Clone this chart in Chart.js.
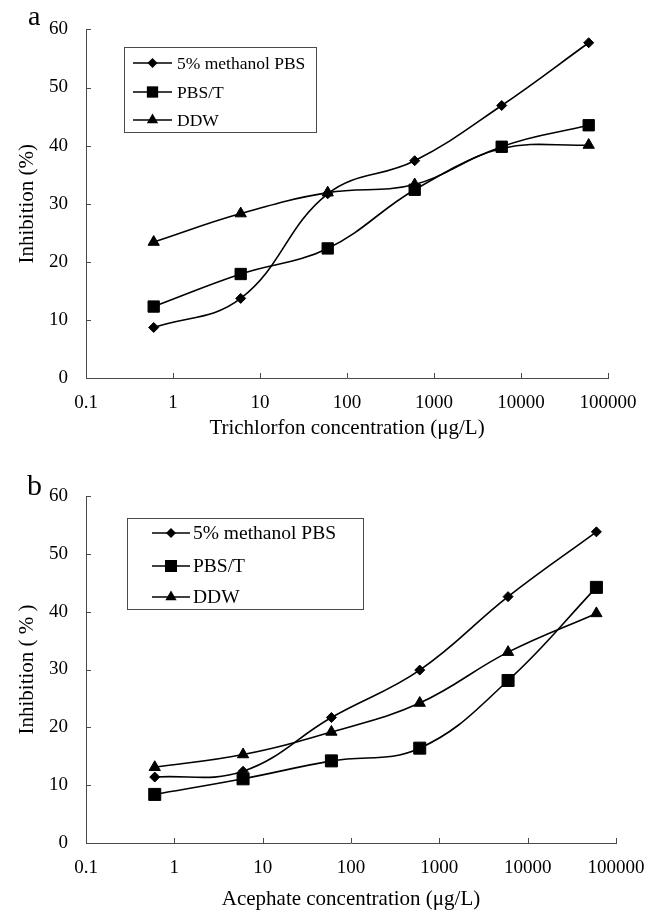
<!DOCTYPE html>
<html><head><meta charset="utf-8">
<script src="https://cdn.jsdelivr.net/npm/chart.js@4"></script>
<style>
html,body{margin:0;padding:0;background:#fff;}
canvas{display:block;}
</style></head><body>
<canvas id="ca" width="650" height="455"></canvas>
<canvas id="cb" width="650" height="455"></canvas>
<script>
// ---- data ----
const concentrations = [0.6, 6, 60, 600, 6000, 60000];
const xTickValues = [0.1, 1, 10, 100, 1000, 10000, 100000];
const yTickValues = [0, 10, 20, 30, 40, 50, 60];
const seriesNames = ['5% methanol PBS', 'PBS/T', 'DDW'];
const trichlorfonMethanol = [8.7, 13.7, 31.7, 37.4, 46.9, 57.7];
const trichlorfonPBST = [12.3, 17.9, 22.3, 32.4, 39.8, 43.5];
const trichlorfonDDW = [23.4, 28.3, 31.9, 33.3, 39.5, 40.1];
const acephateMethanol = [11.4, 12.4, 21.7, 29.9, 42.6, 53.8];
const acephatePBST = [8.4, 11.1, 14.2, 16.4, 28.1, 44.2];
const acephateDDW = [13.1, 15.3, 19.2, 24.2, 33.0, 39.7];
const xTitleA = 'Trichlorfon concentration (\u03bcg/L)';
const xTitleB = 'Acephate concentration (\u03bcg/L)';
const yTitleA = 'Inhibition (%)';
const yTitleB = 'Inhibition ( % )';

const FONT = 'Liberation Serif, Times New Roman, serif';
const AXIS = '#4a4a4a';
const pointStyles = ['rectRot', 'rect', 'triangle'];

function drawMarker(ctx, style, x, y, r) {
  ctx.beginPath();
  if (style === 'rectRot') {
    ctx.moveTo(x, y - r); ctx.lineTo(x + r, y); ctx.lineTo(x, y + r); ctx.lineTo(x - r, y);
  } else if (style === 'rect') {
    const s = r * Math.SQRT1_2;
    ctx.rect(x - s, y - s, 2 * s, 2 * s);
  } else {
    for (let k = 0; k < 3; k++) {
      const t = -Math.PI / 2 + k * 2 * Math.PI / 3;
      const px = x + r * Math.cos(t), py = y + r * Math.sin(t);
      if (k === 0) ctx.moveTo(px, py); else ctx.lineTo(px, py);
    }
  }
  ctx.closePath();
  ctx.fill();
}

function makeChart(id, cfg) {
  const datasets = cfg.series.map((vals, i) => ({
    label: seriesNames[i],
    data: concentrations.map((c, j) => ({ x: c, y: vals[j] })),
    borderColor: '#000',
    backgroundColor: '#000',
    borderWidth: 1.6,
    pointStyle: pointStyles[i],
    pointRadius: cfg.radii[i],
    pointBackgroundColor: '#000',
    pointBorderColor: '#000',
    pointBorderWidth: 1,
    tension: 0.4,
    fill: false
  }));

  const deco = {
    id: 'deco',
    afterDraw(chart) {
      const ctx = chart.ctx;
      const xs = chart.scales.x, ys = chart.scales.y;
      const ca = chart.chartArea;
      ctx.save();
      // inside tick marks
      ctx.strokeStyle = AXIS; ctx.lineWidth = 1;
      ctx.beginPath();
      xTickValues.forEach(v => {
        const px = Math.round(xs.getPixelForValue(v)) + 0.5;
        ctx.moveTo(px, ca.bottom); ctx.lineTo(px, ca.bottom - 5);
      });
      yTickValues.forEach(v => {
        const py = Math.round(ys.getPixelForValue(v)) + 0.5;
        ctx.moveTo(ca.left, py); ctx.lineTo(ca.left + 5, py);
      });
      ctx.stroke();
      // legend box
      const L = cfg.legend;
      ctx.strokeStyle = AXIS; ctx.lineWidth = 1;
      ctx.strokeRect(L.x + 0.5, L.y + 0.5, L.w, L.h);
      ctx.fillStyle = '#000';
      ctx.font = L.font + 'px ' + FONT;
      ctx.textBaseline = 'middle';
      ctx.textAlign = 'left';
      chart.data.datasets.forEach((ds, i) => {
        const ry = L.rows[i];
        ctx.strokeStyle = '#000'; ctx.lineWidth = 1.6;
        ctx.beginPath(); ctx.moveTo(L.lx0, ry); ctx.lineTo(L.lx1, ry); ctx.stroke();
        drawMarker(ctx, pointStyles[i], (L.lx0 + L.lx1) / 2, ry, cfg.radii[i]);
        ctx.fillText(ds.label, L.tx, ry + 1);
      });
      // panel letter
      ctx.font = cfg.letterSize + 'px ' + FONT;
      ctx.textBaseline = 'alphabetic';
      ctx.fillText(cfg.letter, cfg.letterX, cfg.letterY);
      ctx.restore();
    }
  };

  return new Chart(document.getElementById(id), {
    type: 'line',
    data: { datasets },
    plugins: [deco],
    options: {
      responsive: false,
      animation: false,
      devicePixelRatio: 1,
      layout: { padding: { left: 0, top: cfg.top, right: 650 - cfg.right, bottom: 0 } },
      plugins: { legend: { display: false }, tooltip: { enabled: false } },
      scales: {
        x: {
          type: 'logarithmic',
          position: 'bottom',
          min: 0.1,
          max: 100000,
          afterBuildTicks: s => { s.ticks = xTickValues.map(v => ({ value: v, major: true })); },
          afterFit: s => { s.height = 455 - cfg.bottom; s.paddingLeft = 0; s.paddingRight = 0; },
          grid: { display: false, drawTicks: false },
          border: { display: true, color: AXIS, width: 1 },
          ticks: {
            autoSkip: false, maxRotation: 0, minRotation: 0,
            padding: 14, color: '#000',
            font: { family: FONT, size: 19 },
            callback: v => String(v)
          },
          title: {
            display: true, text: cfg.xTitle, color: '#000',
            font: { family: FONT, size: 21, lineHeight: 1 },
            padding: { top: 0, bottom: cfg.xTitlePad }
          }
        },
        y: {
          min: 0, max: 60,
          afterBuildTicks: s => { s.ticks = yTickValues.map(v => ({ value: v })); },
          afterFit: s => { s.width = cfg.left; },
          grid: { display: false, drawTicks: false },
          border: { display: true, color: AXIS, width: 1 },
          ticks: {
            padding: 18, color: '#000',
            font: { family: FONT, size: 19 }
          },
          title: {
            display: true, text: cfg.yTitle, color: '#000',
            font: { family: FONT, size: 21, lineHeight: 1 },
            padding: { top: 16.5, bottom: 0 }
          }
        }
      }
    }
  });
}

makeChart('ca', {
  series: [trichlorfonMethanol, trichlorfonPBST, trichlorfonDDW],
  radii: [5, 8, 6.5],
  left: 86, top: 27, right: 608, bottom: 378,
  xTitle: xTitleA, yTitle: yTitleA, xTitlePad: 16.5,
  legend: { x: 124, y: 47, w: 192, h: 85, rows: [63, 92, 120], lx0: 133, lx1: 172, tx: 177, font: 17.5 },
  letter: 'a', letterX: 28, letterY: 25, letterSize: 28
});

makeChart('cb', {
  series: [acephateMethanol, acephatePBST, acephateDDW],
  radii: [5, 8.5, 6.5],
  left: 86, top: 41, right: 616, bottom: 388,
  xTitle: xTitleB, yTitle: yTitleB, xTitlePad: 0,
  legend: { x: 127, y: 63, w: 236, h: 91, rows: [78, 111, 142], lx0: 152, lx1: 190, tx: 193, font: 19.5 },
  letter: 'b', letterX: 27, letterY: 40, letterSize: 30
});
</script>
</body></html>
